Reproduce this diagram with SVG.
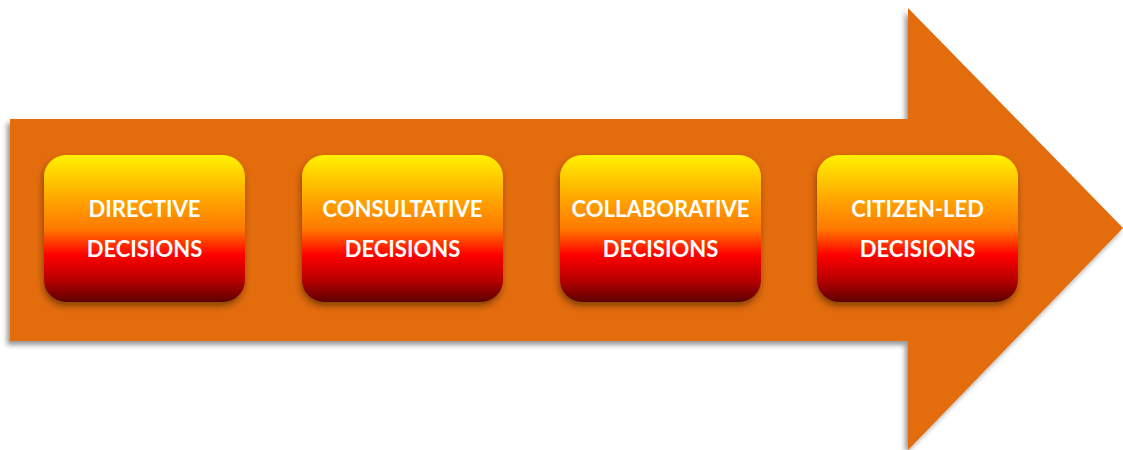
<svg xmlns="http://www.w3.org/2000/svg" width="1123" height="450" viewBox="0 0 1123 450">
  <defs>
    <linearGradient id="stageFill" x1="0" y1="0" x2="0" y2="1">
      <stop offset="0" stop-color="#FFF200"/>
      <stop offset="0.33" stop-color="#FF9E00"/>
      <stop offset="0.5" stop-color="#FF7A00"/>
      <stop offset="0.68" stop-color="#FF0000"/>
      <stop offset="0.85" stop-color="#B80000"/>
      <stop offset="1" stop-color="#5E0000"/>
    </linearGradient>
    <filter id="arrowShadow" x="-5%" y="-5%" width="110%" height="115%">
      <feDropShadow dx="-3" dy="4" stdDeviation="2.5" flood-color="#000" flood-opacity="0.4"/>
    </filter>
    <filter id="boxShadow" x="-10%" y="-10%" width="120%" height="125%">
      <feDropShadow dx="-1" dy="4" stdDeviation="3" flood-color="#3a1a00" flood-opacity="0.55"/>
    </filter>
  </defs>
  <style>
    .stage { fill: url(#stageFill); filter: url(#boxShadow); }
    .label { font-family: Lato, "Open Sans", "Liberation Sans", sans-serif; font-weight: bold; font-size: 22px; fill: #ffffff; text-anchor: middle; }
  </style>

  <rect width="1123" height="450" fill="#ffffff"/>

  <!-- big progression arrow -->
  <g id="arrow">
    <polygon points="10,119 908,119 908,8 1123,228 908,450 908,341 10,341" fill="#E36C0A" filter="url(#arrowShadow)"/>
  </g>

  <g id="connectors"></g>

  <g id="directive">
    <rect class="stage" x="44" y="155" width="201" height="147" rx="22"/>
    <text class="label" x="144.5" y="217">DIRECTIVE</text>
    <text class="label" x="144.5" y="257">DECISIONS</text>
  </g>

  <g id="consultative">
    <rect class="stage" x="302" y="155" width="201" height="147" rx="22"/>
    <text class="label" x="402.5" y="217">CONSULTATIVE</text>
    <text class="label" x="402.5" y="257">DECISIONS</text>
  </g>

  <g id="collaborative">
    <rect class="stage" x="560" y="155" width="201" height="147" rx="22"/>
    <text class="label" x="660.5" y="217">COLLABORATIVE</text>
    <text class="label" x="660.5" y="257">DECISIONS</text>
  </g>

  <g id="citizen-led">
    <rect class="stage" x="817" y="155" width="201" height="147" rx="22"/>
    <text class="label" x="917.5" y="217">CITIZEN-LED</text>
    <text class="label" x="917.5" y="257">DECISIONS</text>
  </g>
</svg>
